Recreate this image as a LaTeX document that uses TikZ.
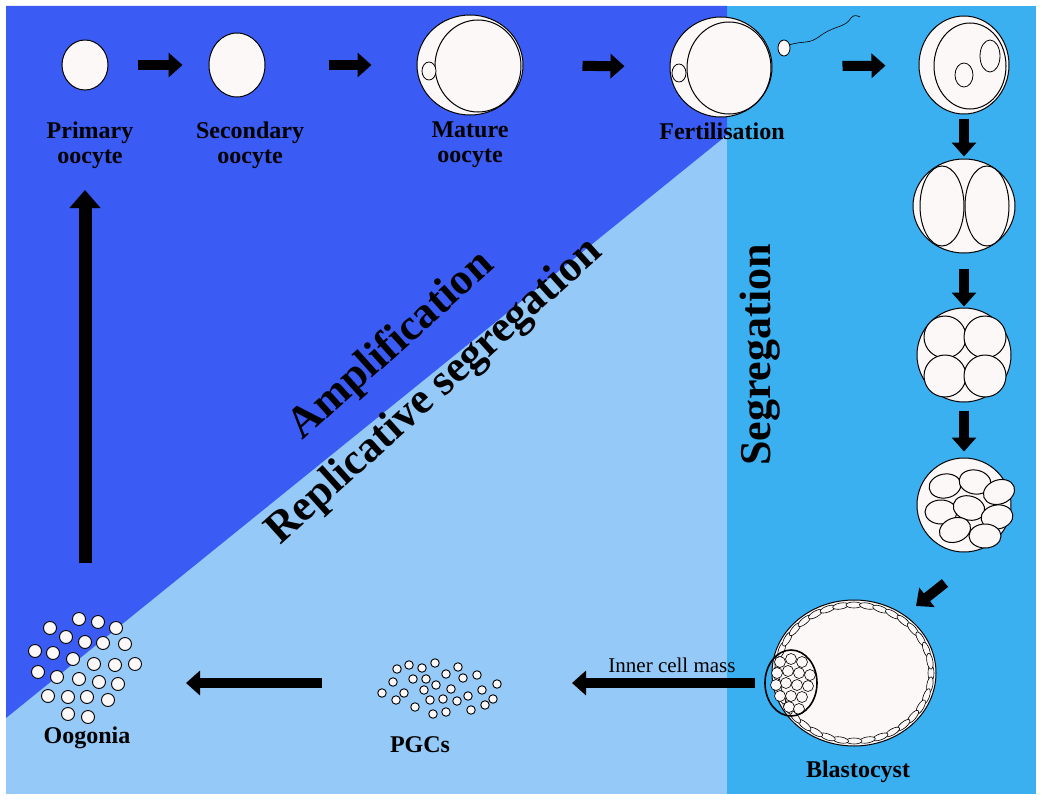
\documentclass[tikz,border=0pt]{standalone}
\usepackage{fontspec}
\setmainfont{Liberation Serif}
\usetikzlibrary{arrows.meta,shapes.geometric,positioning}
\definecolor{darkblue}{HTML}{3A5CF5}
\definecolor{paleblue}{HTML}{95C9F7}
\definecolor{skyblue}{HTML}{3AB0F0}
\definecolor{cellfill}{HTML}{FCF8F8}
\tikzset{
  cell/.style={ellipse,draw,fill=cellfill,line width=1pt,inner sep=0pt},
  blk/.style={line width=10pt,-{Triangle[length=14pt,width=24pt]}},
  lbl/.style={font=\fontsize{24}{25}\selectfont\bfseries,align=center},
  big/.style={font=\fontsize{44}{44}\selectfont\bfseries},
  dot/.style={circle,draw,fill=cellfill,line width=0.9pt,inner sep=0pt}
}
\begin{document}
\begin{tikzpicture}[x=1pt,y=-1pt]
\useasboundingbox (0,0) rectangle (1042,800);
% background panels
\fill[white] (0,0) rectangle (1042,800);
\fill[paleblue] (6,6) rectangle (727,794);
\fill[skyblue] (727,6) rectangle (1036,794);
\fill[darkblue] (6,6) -- (727,6) -- (727,135) -- (6,718) -- cycle;
% oocytes
\node[cell,minimum width=46,minimum height=50] (po) at (85,65) {};
\node[cell,minimum width=56,minimum height=64] (so) at (237,65) {};
\node[cell,minimum width=106,minimum height=100] (mo) at (470,65) {};
\draw[line width=1pt] (478,66) ellipse [x radius=43, y radius=-46];
\draw[fill=cellfill,line width=0.8pt] (429,71) ellipse [x radius=7, y radius=-9];
\node[cell,minimum width=102,minimum height=100] (fe) at (721,67) {};
\draw[line width=1pt] (729,68) ellipse [x radius=42, y radius=-46];
\draw[fill=cellfill,line width=0.8pt] (679,73) ellipse [x radius=7, y radius=-9];
\draw[fill=cellfill,line width=0.8pt] (784,48) ellipse [x radius=6, y radius=-8];
\draw[line width=0.6pt] (789,45) .. controls (805,40) and (808,45) .. (820,36)
  .. controls (835,25) and (845,28) .. (851,18) .. controls (854,14) and (858,16) .. (860,17);
% cleavage stages
\node[cell,minimum width=90,minimum height=98] (zy) at (964,65) {};
\draw[line width=1pt] (970,66) ellipse [x radius=36, y radius=-43];
\draw[fill=cellfill,line width=0.8pt] (964,75) ellipse [x radius=9, y radius=-12];
\draw[fill=cellfill,line width=0.8pt] (990,56) ellipse [x radius=10, y radius=-16];
\node[cell,minimum width=102,minimum height=94] (tw) at (964,206) {};
\draw[fill=cellfill,line width=1pt] (942,206) ellipse [x radius=22, y radius=-40];
\draw[fill=cellfill,line width=1pt] (987,206) ellipse [x radius=22, y radius=-40];
\node[cell,minimum width=94,minimum height=94] (fo) at (964,355) {};
\foreach \x/\y in {945/337,985/337,945/376,985/376}
  \draw[fill=cellfill,line width=1pt] (\x,\y) circle [radius=21];
\node[cell,minimum width=94,minimum height=94] (ei) at (964,505) {};
\foreach \x/\y/\a in {945/486/10,975/482/-10,999/492/20,941/512/0,969/508/-15,997/517/10,955/530/20,985/536/0}
  \draw[fill=cellfill,line width=1pt,rotate around={\a:(\x,\y)}] (\x,\y) ellipse [x radius=16, y radius=-12];
% blastocyst
\node[cell,minimum width=164,minimum height=146] (bl) at (854,673) {};
\foreach \t in {0,10,...,359}
  \draw[fill=cellfill,line width=0.6pt,rotate around={-\t:({854+77*cos(\t)},{673+68*sin(\t)})}]
    ({854+77*cos(\t)},{673+68*sin(\t)}) ellipse [x radius=3, y radius=-8];
\foreach \x/\y in {780/662,791/659,802/662,777/673,788/671,799/673,810/675,776/685,786/683,797/685,808/686,780/696,791/696,802/697,789/707,799/709}
  \draw[fill=cellfill,line width=0.6pt] (\x,\y) circle [radius=5.5];
\draw[line width=1.6pt] (791,683) ellipse [x radius=26, y radius=-33];
% germ cells
\foreach \x/\y in {79/619,98/622,116/628,50/628,66/637,85/642,103/643,125/644,35/651,53/653,73/659,94/664,115/665,135/664,38/672,57/677,79/679,99/682,118/684,48/696,68/697,87/697,108/700,68/714,88/717}
  \node[dot,minimum size=13] at (\x,\y) {};
\foreach \x/\y in {397/669,409/665,422/668,435/663,446/674,458/667,393/682,413/679,426/679,436/685,463/678,477/675,382/693,404/693,424/690,451/689,482/690,396/700,430/700,443/699,457/701,468/696,493/699,485/705,415/707,433/714,446/712,471/710,497/684}
  \node[dot,minimum size=8.5] at (\x,\y) {};
% labels
\node[lbl] at (90,145) {Primary\\oocyte};
\node[lbl] at (250,145) {Secondary\\oocyte};
\node[lbl] at (470,145) {Mature\\oocyte};
\node[lbl] at (722,131) {Fertilisation};
\node[lbl] at (87,738) {Oogonia};
\node[lbl] at (420,745) {PGCs};
\node[lbl] at (858,772) {Blastocyst};
\node[font=\fontsize{21}{21}\selectfont] at (672,665) {Inner cell mass};
\node[big,rotate=42] at (392,346) {Amplification};
\node[big,rotate=42] at (435,392) {Replicative segregation};
\node[big,rotate=90] at (760,355) {Segregation};
% arrow ends
\coordinate (d1) at (945,583);
\coordinate (d2) at (916,606);
\coordinate (i1) at (755,683);
\coordinate (i2) at (572,683);
\coordinate (o1) at (322,683);
\coordinate (o2) at (186,683);
\coordinate (u1) at (85,563);
\coordinate (u2) at (85,190);
% arrows
\draw[blk,shorten <=29pt,shorten >=26pt] (po) -- (so);
\draw[blk,shorten <=63pt,shorten >=45pt] (so) -- (mo);
\draw[blk,shorten <=59pt,shorten >=45pt] (mo) -- (fe);
\draw[blk,shorten <=70pt,shorten >=33pt] (fe) -- (zy);
\draw[blk,shorten <=4pt,shorten >=2pt] (zy) -- (tw);
\draw[blk,shorten <=15pt,shorten >=1pt] (tw) -- (fo);
\draw[blk,shorten <=8pt,shorten >=6pt] (fo) -- (ei);
\draw[blk] (d1) -- (d2);
\draw[blk] (i1) -- (i2);
\draw[blk] (o1) -- (o2);
\draw[line width=13pt,-{Triangle[length=18pt,width=30pt]}] (u1) -- (u2);
\end{tikzpicture}
\end{document}
